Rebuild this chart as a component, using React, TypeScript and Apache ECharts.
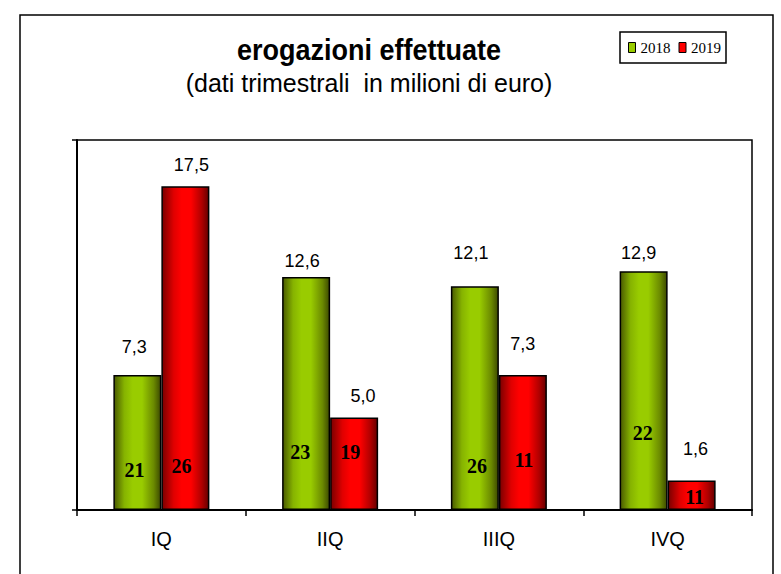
import React, { useEffect, useRef } from "react";
import * as echarts from "echarts";

// ---- data ----
const categories = ["IQ", "IIQ", "IIIQ", "IVQ"];
const seriesNames = ["2018", "2019"];
const values2018 = [7.3, 12.6, 12.1, 12.9];
const values2019 = [17.5, 5.0, 7.3, 1.6];
const counts2018 = [21, 23, 26, 22];
const counts2019 = [26, 19, 11, 11];

// ---- label placement (style only) ----
const topDist2018 = [19, 7, 24, 9];
const topDist2019 = [12, 13, 22, 22];
const topDx2018 = [-3, -4, -4, -5];
const topDx2019 = [6, 9, 0, 4];
const innerDist2018 = [30, 48, 34, 67];
const innerDist2019 = [34, 48, 40, 3];
const innerDx2018 = [-3, -6, 2, -1];
const innerDx2019 = [-4, -4, 1, 3];

const ARIAL = '"Liberation Sans", Arial, sans-serif';
const TIMES = '"Liberation Serif", "Times New Roman", serif';

const greenGrad = new echarts.graphic.LinearGradient(0, 0, 1, 0, [
  { offset: 0, color: "#4a5a00" },
  { offset: 0.22, color: "#86b300" },
  { offset: 0.4, color: "#99cc00" },
  { offset: 0.6, color: "#99cc00" },
  { offset: 0.85, color: "#6b8a00" },
  { offset: 1, color: "#3d4a00" },
]);
const redGrad = new echarts.graphic.LinearGradient(0, 0, 1, 0, [
  { offset: 0, color: "#7a0000" },
  { offset: 0.25, color: "#e00000" },
  { offset: 0.42, color: "#ff0000" },
  { offset: 0.62, color: "#ff0000" },
  { offset: 0.85, color: "#b00000" },
  { offset: 1, color: "#660000" },
]);

const fmt = (v: number) => v.toFixed(1).replace(".", ",");

export default function App() {
  const ref = useRef<HTMLDivElement>(null);
  useEffect(() => {
    if (!ref.current) return;
    const chart = echarts.init(ref.current, null, { renderer: "svg" });

    const mainSeries = (
      name: string,
      vals: number[],
      dist: number[],
      dx: number[],
      color: any
    ) => ({
      name,
      type: "bar",
      xAxisIndex: 0,
      yAxisIndex: 0,
      barWidth: 48,
      barGap: "0%",
      itemStyle: { color, borderColor: "#000", borderWidth: 1.5 },
      label: {
        show: true,
        position: "top",
        color: "#000",
        fontFamily: ARIAL,
        fontSize: 18,
        formatter: (p: any) => fmt(p.value),
      },
      data: vals.map((v, i) => ({
        value: v,
        label: { distance: dist[i], offset: [dx[i], 0] },
      })),
      z: 2,
    });

    const innerSeries = (
      name: string,
      vals: number[],
      counts: number[],
      dist: number[],
      dx: number[]
    ) => ({
      name,
      type: "bar",
      xAxisIndex: 1,
      yAxisIndex: 0,
      barWidth: 48,
      barGap: "0%",
      silent: true,
      itemStyle: { color: "rgba(0,0,0,0)", borderWidth: 0 },
      label: {
        show: true,
        position: "insideBottom",
        color: "#000",
        fontFamily: TIMES,
        fontWeight: "bold",
        fontSize: 20,
        formatter: (p: any) => String(counts[p.dataIndex]),
      },
      data: vals.map((v, i) => ({
        value: v,
        label: { distance: dist[i], offset: [dx[i], 0] },
      })),
      z: 5,
    });

    chart.setOption({
      animation: false,
      backgroundColor: "#fff",
      graphic: [
        {
          type: "rect",
          shape: { x: 20, y: 15, width: 753, height: 620 },
          style: { fill: "none", stroke: "#000", lineWidth: 1.5 },
          z: -1,
          silent: true,
        },
        {
          type: "text",
          x: 369,
          y: 50,
          scaleY: 1.1,
          style: {
            text: "erogazioni effettuate",
            font: `bold 27px ${ARIAL}`,
            fill: "#000",
            align: "center",
            verticalAlign: "middle",
          },
        },
        {
          type: "text",
          x: 369,
          y: 83,
          scaleY: 1.05,
          style: {
            text: "(dati trimestrali  in milioni di euro)",
            font: `25px ${ARIAL}`,
            fill: "#000",
            align: "center",
            verticalAlign: "middle",
          },
        },
      ],
      legend: {
        data: [
          { name: seriesNames[0], itemStyle: { color: "#99cc00", borderColor: "#000", borderWidth: 1 } },
          { name: seriesNames[1], itemStyle: { color: "#ff0000", borderColor: "#000", borderWidth: 1 } },
        ],
        left: 620,
        top: 32,
        orient: "horizontal",
        icon: "rect",
        itemWidth: 7,
        itemHeight: 10,
        itemGap: 8,
        padding: [8, 5, 8, 8],
        borderColor: "#000",
        borderWidth: 1.5,
        textStyle: { fontFamily: TIMES, fontSize: 15, color: "#000" },
        selectedMode: false,
      },
      grid: {
        left: 77,
        right: 29,
        top: 140,
        bottom: 64,
        show: true,
        borderColor: "#000",
        borderWidth: 1.5,
        backgroundColor: "transparent",
      },
      xAxis: [
        {
          type: "category",
          data: categories,
          axisLine: { show: true, lineStyle: { color: "#000", width: 2 } },
          axisTick: { show: true, length: 6, lineStyle: { color: "#000", width: 1.5 } },
          axisLabel: { color: "#000", fontFamily: ARIAL, fontSize: 20, margin: 19 },
          splitLine: { show: false },
        },
        {
          type: "category",
          data: categories,
          show: false,
        },
      ],
      yAxis: {
        type: "value",
        min: 0,
        max: 20,
        interval: 20,
        axisLine: { show: true, lineStyle: { color: "#000", width: 2 } },
        axisTick: { show: true, length: 5, lineStyle: { color: "#000", width: 1.5 } },
        axisLabel: { show: false },
        splitLine: { show: false },
      },
      series: [
        mainSeries(seriesNames[0], values2018, topDist2018, topDx2018, greenGrad),
        mainSeries(seriesNames[1], values2019, topDist2019, topDx2019, redGrad),
        innerSeries("n2018", values2018, counts2018, innerDist2018, innerDx2018),
        innerSeries("n2019", values2019, counts2019, innerDist2019, innerDx2019),
      ],
    });
    return () => chart.dispose();
  }, []);

  return (
    <div
      ref={ref}
      style={{ position: "fixed", left: 0, top: 0, width: 781, height: 574, background: "#fff" }}
    />
  );
}
